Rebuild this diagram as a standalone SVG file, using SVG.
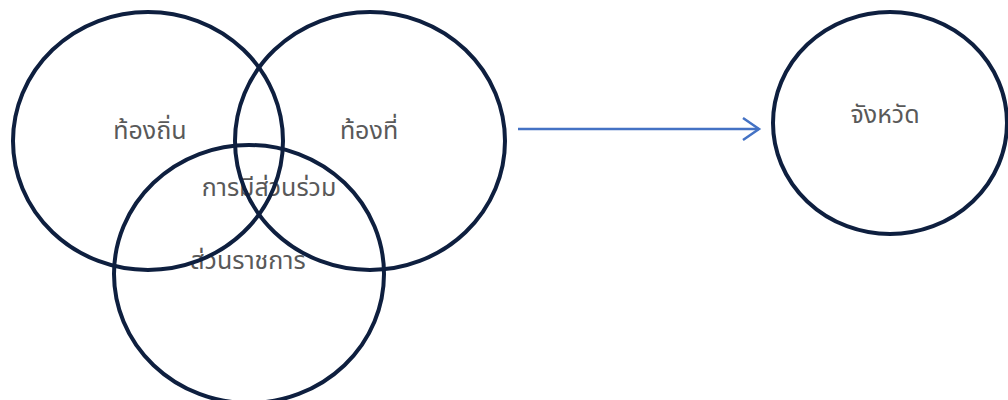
<svg xmlns="http://www.w3.org/2000/svg" width="1008" height="400" viewBox="0 0 1008 400">
<defs>
<style>
.c{fill:none;stroke:#0e1f3f;stroke-width:4}
.t{font-family:"Noto Sans Thai","Tahoma","DejaVu Sans",sans-serif;font-size:25px;fill:#595959}
.a{fill:none;stroke:#4472c4;stroke-width:2.5}
</style>
</defs>
<rect width="1008" height="400" fill="#ffffff"/>
<g id="labels">
<text class="t" x="150" y="139" text-anchor="middle">ท้องถิ่น</text>
<text class="t" x="369" y="139" text-anchor="middle">ท้องที่</text>
<text class="t" x="269" y="196" text-anchor="middle">การมีส่วนร่วม</text>
<text class="t" x="248" y="269" text-anchor="middle">ส่วนราชการ</text>
<text class="t" x="885" y="123" text-anchor="middle">จังหวัด</text>
</g>
<g id="node-local"><ellipse class="c" cx="148" cy="141" rx="135" ry="129"/></g>
<g id="node-area"><ellipse class="c" cx="370" cy="141" rx="135" ry="129"/></g>
<g id="node-gov"><ellipse class="c" cx="249" cy="274" rx="135" ry="129"/></g>
<g id="node-province"><ellipse class="c" cx="890" cy="123" rx="117" ry="111"/></g>
<g id="connectors">
<line class="a" x1="518" y1="129" x2="759" y2="129"/>
<polyline class="a" points="743,118 759,129 743,140"/>
</g>
</svg>
